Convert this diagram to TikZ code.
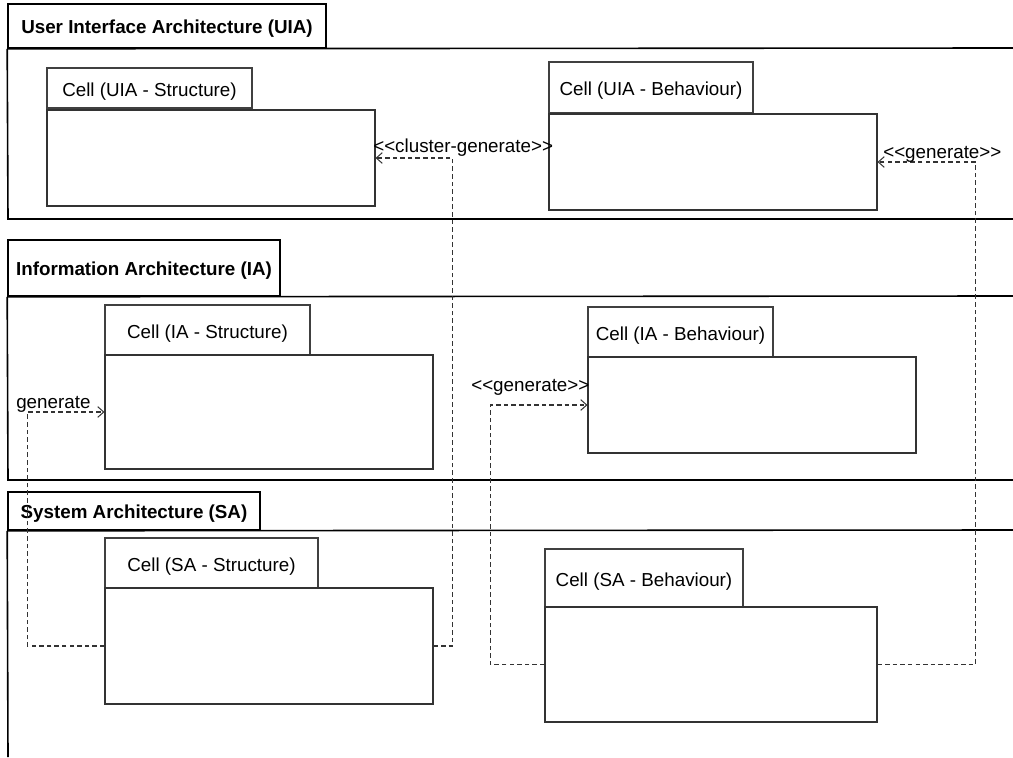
\documentclass[tikz,border=0pt]{standalone}
\usepackage{fontspec}
\setmainfont{Liberation Sans}
\usetikzlibrary{arrows.meta,fit}

\tikzset{
  txt/.style={font=\fontsize{14.1pt}{17pt}\selectfont},
  frametab/.style={draw=black, line width=1.2pt, inner sep=0pt,
                   label={[txt, yshift=-2.3pt, font=\fontsize{14.1pt}{17pt}\selectfont\bfseries]center:#1}},
  frameline/.style={draw=black, line width=1.2pt},
  celltab/.style={draw=black!75, line width=0.8pt, fill=white, inner sep=0pt,
                  label={[txt, yshift=-2.6pt]center:#1}},
  cellbody/.style={draw=black!80, line width=0.8pt, fill=white, inner sep=0pt},
  dep/.style={draw=black!80, line width=0.8pt, dash pattern=on 3.4pt off 2.3pt,
              -{Straight Barb[length=4.5pt,width=8pt,line width=0.75pt]}},
  lbl/.style={txt, inner sep=0pt, anchor=base west}
}

\begin{document}
\begin{tikzpicture}[x=0.75pt,y=-0.75pt]
\useasboundingbox (0,0) rectangle (1013,757);

% ---- User Interface Architecture frame
\node[frametab={User Interface Architecture (UIA)}, fit={(8,4)(326,48)}] (uiaTab) {};
\draw[frameline] (uiaTab.south west) -- (1013,48);
\draw[frameline] (uiaTab.south west) -- (8,219) -- (1013,219);

% ---- Information Architecture frame
\node[frametab={Information Architecture (IA)}, fit={(8,240)(280,296)}] (iaTab) {};
\draw[frameline] (iaTab.south west) -- (1013,296);
\draw[frameline] (iaTab.south west) -- (8,480) -- (1013,480);

% ---- System Architecture frame
\node[frametab={System Architecture (SA)}, fit={(8,492)(260,530)}] (saTab) {};
\draw[frameline] (saTab.south west) -- (1013,530);
\draw[frameline] (saTab.south west) -- (8,757);

% ---- cells: name tab + body
\node[celltab={Cell (UIA - Structure)}, fit={(47,68)(252,108)}] (uiasTab) {};
\node[cellbody, fit={(47,110)(375,206)}] (uias) {};

\node[celltab={Cell (UIA - Behaviour)}, fit={(549,62)(753,113)}] (uiabTab) {};
\node[cellbody, fit={(549,114)(877,210)}] (uiab) {};

\node[celltab={Cell (IA - Structure)}, fit={(105,305)(310,355)}] (iasTab) {};
\node[cellbody, fit={(105,355)(433,469)}] (ias) {};

\node[celltab={Cell (IA - Behaviour)}, fit={(588,307)(773,357)}] (iabTab) {};
\node[cellbody, fit={(588,357)(916,453)}] (iab) {};

\node[celltab={Cell (SA - Structure)}, fit={(105,538)(318,588)}] (sasTab) {};
\node[cellbody, fit={(105,588)(433,704)}] (sas) {};

\node[celltab={Cell (SA - Behaviour)}, fit={(545,549)(743,607)}] (sabTab) {};
\node[cellbody, fit={(545,607)(877,722)}] (sab) {};

% ---- dependencies
\draw[dep] (sas.east) -- ++(19,0) |- (uias.east);
\draw[dep] (sab.east) -- ++(98,0) |- (uiab.east);
\draw[dep] (sas.west) -- ++(-77,0) |- (ias.west);
\draw[dep] (sab.west) -- ++(-54,0) |- (iab.west);

% ---- dependency labels
\node[lbl] (lCluster) at (373,152) {<{}<cluster-generate>{}>};
\node[lbl] (lGenUI) at (883,158) {<{}<generate>{}>};
\node[lbl] (lGenIA) at (16,408) {generate};
\node[lbl] (lGenIB) at (471,391) {<{}<generate>{}>};
\end{tikzpicture}
\end{document}
